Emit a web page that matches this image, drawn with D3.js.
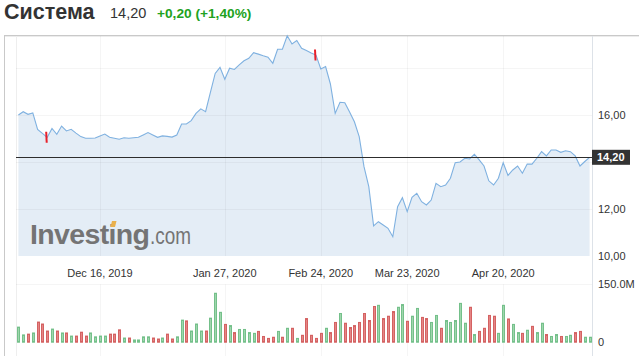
<!DOCTYPE html>
<html>
<head>
<meta charset="utf-8">
<script src="https://cdn.jsdelivr.net/npm/d3@7"></script>
<style>
  body { margin: 0; background: #fff; }
  svg { display: block; font-family: Arial, "Liberation Sans", sans-serif; }
</style>
</head>
<body>
<div id="chart"></div>
<script>
// Заголовок
const ticker = "Система";
const lastPrice = 14.20;
const changeText = "+0,20 (+1,40%)";

// Цены закрытия (по торговым дням)
const priceValues = [
  16.00, 16.14, 16.03, 16.09, 15.39, 15.22, 15.05, 15.43, 15.18, 15.53,
  15.32, 15.39, 15.23, 15.08, 15.01, 15.01, 15.02, 15.11, 15.19, 15.05,
  15.01, 14.97, 15.03, 15.01, 15.03, 15.05, 15.15, 15.25, 15.15, 15.05,
  15.11, 15.09, 15.06, 15.15, 15.62, 15.62, 15.76, 16.07, 16.26, 16.14,
  16.96, 17.77, 18.03, 17.52, 17.99, 17.94, 18.13, 18.31, 18.41, 18.65,
  18.59, 18.52, 18.46, 18.20, 18.80, 18.80, 19.37, 19.02, 19.17, 18.84,
  18.74, 18.64, 18.55, 17.96, 18.06, 17.32, 16.07, 16.54, 16.52, 16.13,
  15.71, 15.08, 13.80, 12.95, 11.28, 11.46, 11.32, 11.18, 10.82, 12.10,
  12.48, 11.89, 12.50, 12.67, 12.31, 12.17, 12.38, 13.09, 12.95, 13.02,
  13.31, 13.97, 14.00, 14.16, 14.13, 14.33, 14.09, 13.83, 13.20, 13.02,
  13.31, 13.97, 13.43, 13.66, 13.83, 13.52, 13.91, 13.91, 14.16, 14.44,
  14.26, 14.51, 14.51, 14.41, 14.48, 14.44, 14.26, 13.83, 14.02, 14.20
];

// Объём торгов, млн
const volumeValues = [
  40, 20, 22, 25, 53, 48, 30, 35, 30, 25,
  25, 17, 17, 27, 17, 25, 15, 17, 17, 22,
  22, 33, 12, 12, 7, 7, 15, 15, 12, 9.5,
  12, 22, 9.5, 15, 58, 56, 30, 48, 30, 30,
  63, 127, 78, 47, 44, 26, 34, 34, 26, 24,
  29, 16, 11, 14, 29, 14, 37, 37, 11, 19,
  62, 19, 11, 24, 37, 26, 52, 75, 50, 39,
  44, 52, 75, 57, 93, 96, 62, 68, 80, 91,
  98, 55, 68, 88, 65, 62, 52, 70, 37, 57,
  52, 57, 101, 50, 91, 21, 29, 37, 70, 68,
  24, 96, 61, 47, 26, 24, 32, 42, 26, 50,
  21, 16, 21, 16, 16, 19, 26, 29, 14, 14
];

// Рост (g) / падение (r) для столбиков объёма
const volumeDir = (
  "ggrgrrrgrg" + "rgrrrggggr" + "rrgrggggrr" + "grrggrgggr" +
  "gggrgrgggg" + "rrrrgrgrgr" + "rrrrgrrgrr" + "rrrrrgrrrg" +
  "grggrrggrg" + "ggggrgrrrr" + "ggrggrgrgg" + "rggrggrrgg"
).split("");

// Подписи оси дат и их торговые дни
const dateTickIdx = [17, 43, 63, 81, 101];
const dateTickLabels = ["Dec 16, 2019", "Jan 27, 2020", "Feb 24, 2020", "Mar 23, 2020", "Apr 20, 2020"];

// Оси
const priceGridValues = [12, 14, 16, 18];
const priceLabelValues = [10, 12, 16];
const volumeLabelValues = [0, 150];

// События (красные отметки)
const eventIdx = [6, 62];

// Размеры
const width = 639, height = 356;
const plot = { left: 16, right: 592, top: 36, bottom: 256 };
const volPane = { top: 284.3, bottom: 342.7 };

const svg = d3.select("#chart").append("svg")
  .attr("width", width)
  .attr("height", height);

const x = d3.scalePoint()
  .domain(d3.range(priceValues.length))
  .range([plot.left, plot.right])
  .padding(0.5);
const y = d3.scaleLinear().domain([10, 18]).range([plot.bottom, 68]);
const yv = d3.scaleLinear().domain([0, 150]).range([volPane.bottom, volPane.top]);

const fmtPrice = v => d3.format(".2f")(v).replace(".", ",");

// Заголовок
const head = svg.append("g");
head.append("text").attr("x", 4).attr("y", 18.5)
  .attr("font-size", 21.5).attr("font-weight", "bold").attr("fill", "#333")
  .text(ticker);
head.append("text").attr("x", 110).attr("y", 18.3)
  .attr("font-size", 14.5).attr("fill", "#333")
  .text(fmtPrice(lastPrice));
head.append("text").attr("x", 157).attr("y", 18.3)
  .attr("font-size", 13.7).attr("font-weight", "bold").attr("fill", "#21a221")
  .text(changeText);

// Рамка панели
svg.append("line").attr("x1", 4).attr("x2", width).attr("y1", 35.5).attr("y2", 35.5)
  .attr("stroke", "#c9c9c9");
svg.append("line").attr("x1", 5).attr("x2", width).attr("y1", 36.5).attr("y2", 36.5)
  .attr("stroke", "#ececec");
svg.append("line").attr("x1", 4.5).attr("x2", 4.5).attr("y1", 35).attr("y2", height)
  .attr("stroke", "#c9c9c9");
svg.append("line").attr("x1", 16.5).attr("x2", 16.5).attr("y1", 36).attr("y2", height)
  .attr("stroke", "#eeeeee");

// Область цены
const area = d3.area()
  .x((d, i) => x(i))
  .y0(y(10))
  .y1(d => y(d));
svg.append("path").datum(priceValues)
  .attr("d", area)
  .attr("fill", "#e4edf6");

// Сетка
const grid = svg.append("g").attr("stroke", "rgba(0,0,0,0.04)");
grid.selectAll(".hgrid").data(priceGridValues).enter().append("line")
  .attr("x1", plot.left).attr("x2", plot.right)
  .attr("y1", d => Math.round(y(d)) + 0.5).attr("y2", d => Math.round(y(d)) + 0.5);
grid.selectAll(".vgrid").data(dateTickIdx).enter().append("line")
  .attr("x1", d => Math.round(x(d)) + 0.5).attr("x2", d => Math.round(x(d)) + 0.5)
  .attr("y1", plot.top).attr("y2", plot.bottom);
grid.selectAll(".vgrid2").data(dateTickIdx).enter().append("line")
  .attr("x1", d => Math.round(x(d)) + 0.5).attr("x2", d => Math.round(x(d)) + 0.5)
  .attr("y1", volPane.top).attr("y2", height);
grid.append("line")
  .attr("x1", plot.left).attr("x2", plot.right)
  .attr("y1", Math.round(volPane.top) + 0.5).attr("y2", Math.round(volPane.top) + 0.5);

// Линия цены
const line = d3.line()
  .x((d, i) => x(i))
  .y(d => y(d));
svg.append("path").datum(priceValues)
  .attr("d", line)
  .attr("fill", "none")
  .attr("stroke", "#7fb1e0")
  .attr("stroke-width", 1.1);

// Текущая цена
const yLast = Math.round(y(lastPrice)) + 0.5;
svg.append("line")
  .attr("x1", plot.left).attr("x2", plot.right)
  .attr("y1", yLast).attr("y2", yLast)
  .attr("stroke", "#2d2d2d");

// Отметки событий
svg.selectAll(".event").data(eventIdx).enter().append("path")
  .attr("d", d => {
    const cx = x(d) - 0.5, cy = y(priceValues[d]);
    return `M${cx - 1.5},${cy - 5.5} L${cx + 0.5},${cy - 5.5} L${cx + 1},${cy + 5.5} L${cx - 1},${cy + 5.5} Z`;
  })
  .attr("fill", "#e8202a");

// Правая ось
svg.append("line").attr("x1", plot.right + 0.5).attr("x2", plot.right + 0.5)
  .attr("y1", plot.top).attr("y2", height)
  .attr("stroke", "#dde2e8");

svg.selectAll(".plabel").data(priceLabelValues).enter().append("text")
  .attr("x", 598).attr("y", d => y(d) - 0.5)
  .attr("dominant-baseline", "central")
  .attr("font-size", 11).attr("fill", "#333")
  .text(d => fmtPrice(d));

svg.append("rect")
  .attr("x", plot.right).attr("y", y(lastPrice) - 7.5)
  .attr("width", 38).attr("height", 15)
  .attr("fill", "#333");
svg.append("text")
  .attr("x", 597).attr("y", y(lastPrice))
  .attr("dominant-baseline", "central")
  .attr("font-size", 11).attr("font-weight", "bold").attr("fill", "#fff")
  .text(fmtPrice(lastPrice));

// Даты
svg.selectAll(".dlabel").data(dateTickIdx).enter().append("text")
  .attr("x", d => x(d))
  .attr("y", 276.5)
  .attr("text-anchor", "middle")
  .attr("font-size", 11).attr("fill", "#333")
  .text((d, i) => dateTickLabels[i]);

// Объём
svg.selectAll(".vol").data(volumeValues).enter().append("rect")
  .attr("x", (d, i) => Math.round(x(i)) - 1 + 0.5)
  .attr("y", d => yv(d))
  .attr("width", 2)
  .attr("height", d => volPane.bottom - yv(d) - 0.5)
  .attr("fill", (d, i) => volumeDir[i] === "g" ? "#9fd6ad" : "#e58585")
  .attr("stroke", (d, i) => volumeDir[i] === "g" ? "#74c08a" : "#d46262")
  .attr("stroke-width", 1);

svg.selectAll(".vlabel").data(volumeLabelValues).enter().append("text")
  .attr("x", 598).attr("y", d => yv(d) - 0.5)
  .attr("dominant-baseline", "central")
  .attr("font-size", 11).attr("fill", "#333")
  .text(d => d === 0 ? "0" : d.toFixed(1) + "M");

// Водяной знак
const wm = svg.append("g").attr("fill", "#747474");
wm.append("text").attr("x", 30).attr("y", 243.5)
  .attr("font-size", 28.5).attr("font-weight", "bold")
  .attr("textLength", 120).attr("lengthAdjust", "spacing")
  .text("Investing");
wm.append("text").attr("x", 150).attr("y", 243.5)
  .attr("font-size", 23)
  .attr("textLength", 41).attr("lengthAdjust", "spacingAndGlyphs")
  .text(".com");
svg.append("path")
  .attr("d", "M110.5,227 L112,221 L116.5,221 L115,227 Z")
  .attr("fill", "#e9b04c");
</script>
</body>
</html>
